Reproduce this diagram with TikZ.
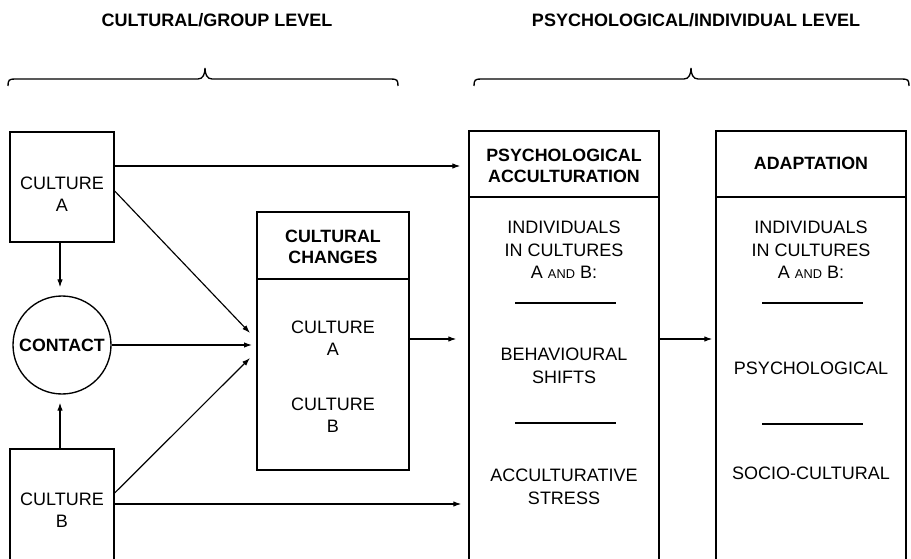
\documentclass[tikz,border=0pt]{standalone}
\usepackage{fontspec}
\setmainfont{Liberation Sans}
\usetikzlibrary{arrows.meta,calc}
\newcommand\lowcaps[1]{{\fontsize{12.8}{12.8}\selectfont #1}}
\begin{document}
\begin{tikzpicture}[x=1pt,y=-1pt,
  boxframe/.style={draw, line width=1.35pt, inner sep=0pt},
  txt/.style={font=\fontsize{18}{22.5}\selectfont, align=center, inner sep=0pt},
  head/.style={font=\fontsize{17.8}{20.5}\selectfont\bfseries, align=center, inner sep=0pt},
  title/.style={font=\fontsize{18}{22}\selectfont\bfseries, inner sep=0pt, anchor=base},
  arr/.style={line width=1.15pt, -{Latex[length=8pt,width=5.5pt]}},
  rule/.style={line width=1.35pt},
  brace/.style={line width=1.35pt}]
\clip (0,0) rectangle (911,559);

% level titles
\node[title] (t1) at (217,26.5) {CULTURAL/GROUP LEVEL};
\node[title] (t2) at (696,26.5) {PSYCHOLOGICAL/INDIVIDUAL LEVEL};

% braces under the titles
\draw[brace] (8,86) .. controls (8,80) and (9,79) .. (15,79) -- (198,79)
  .. controls (203,79) and (205,74) .. (205,68)
  .. controls (205,74) and (207,79) .. (212,79) -- (391,79)
  .. controls (397,79) and (398,80) .. (398,86);
\draw[brace] (474,86) .. controls (474,80) and (475,79) .. (481,79) -- (684,79)
  .. controls (689,79) and (691,74) .. (691,68)
  .. controls (691,74) and (693,79) .. (698,79) -- (902,79)
  .. controls (908,79) and (909,80) .. (909,86);

% group level
\node[boxframe, minimum width=104pt, minimum height=110pt] (ca) at (62,187) {};
\node[txt] (cat) at (62,194) {CULTURE\\A};
\node[boxframe, circle, minimum size=98pt] (ct) at (62,345) {};
\node[head] (ctt) at (62,345) {CONTACT};
\node[boxframe, minimum width=104pt, minimum height=171pt] (cb) at (62,534.5) {};
\node[txt] (cbt) at (62,510) {CULTURE\\B};

\node[boxframe, minimum width=152pt, minimum height=258pt] (cc) at (333,341) {};
\draw[rule] (cc.west |- 0,279) -- (cc.east |- 0,279);
\node[head] (cch) at (333,247) {CULTURAL\\CHANGES};
\node[txt] (cca) at (333,338) {CULTURE\\A};
\node[txt] (ccb) at (333,415) {CULTURE\\B};

% individual level
\node[boxframe, minimum width=190pt, minimum height=489pt] (ps) at (564,375.5) {};
\draw[rule] (ps.west |- 0,197) -- (ps.east |- 0,197);
\node[head] (psh) at (564,166) {PSYCHOLOGICAL\\ACCULTURATION};
\node[txt] (psi) at (564,250) {INDIVIDUALS\\IN CULTURES\\A \lowcaps{AND} B:};
\draw[rule] (515,303) -- (616,303);
\node[txt] (psb) at (564,366) {BEHAVIOURAL\\SHIFTS};
\draw[rule] (515,423) -- (616,423);
\node[txt] (pss) at (564,487) {ACCULTURATIVE\\STRESS};

\node[boxframe, minimum width=190pt, minimum height=489pt] (ad) at (811,375.5) {};
\draw[rule] (ad.west |- 0,197) -- (ad.east |- 0,197);
\node[head] (adh) at (811,163) {ADAPTATION};
\node[txt] (adi) at (811,250) {INDIVIDUALS\\IN CULTURES\\A \lowcaps{AND} B:};
\draw[rule] (762,303) -- (863,303);
\node[txt] (adp) at (811,368) {PSYCHOLOGICAL};
\draw[rule] (762,424) -- (863,424);
\node[txt] (ads) at (811,473) {SOCIO-CULTURAL};

% arrow ends in front of the cultural changes box
\coordinate (inA) at (250,333);
\coordinate (inC) at (252,345);
\coordinate (inB) at (250,358);

% connectors
\draw[arr, shorten >=8pt] ([xshift=-2pt]ca.south) -- ([xshift=-2pt]ct.north);
\draw[arr, shorten >=8pt] ([xshift=-2pt]cb.north) -- ([xshift=-2pt]ct.south);
\draw[arr, shorten >=8pt] ([yshift=21pt]ca.east) -- ([yshift=21pt]ca.east -| ps.west);
\draw[arr] ([yshift=-4pt]ca.east) -- (inA);
\draw[arr] (ct.east) -- (inC);
\draw[arr] (cb.east |- 0,493) -- (inB);
\draw[arr, shorten >=7pt] (cb.east |- 0,504) -- (ps.west |- 0,504);
\draw[arr, shorten >=12pt] ([yshift=2pt]cc.east) -- ([yshift=2pt]cc.east -| ps.west);
\draw[arr, shorten >=3pt] (ps.east |- 0,339) -- (ad.west |- 0,339);
\end{tikzpicture}
\end{document}
